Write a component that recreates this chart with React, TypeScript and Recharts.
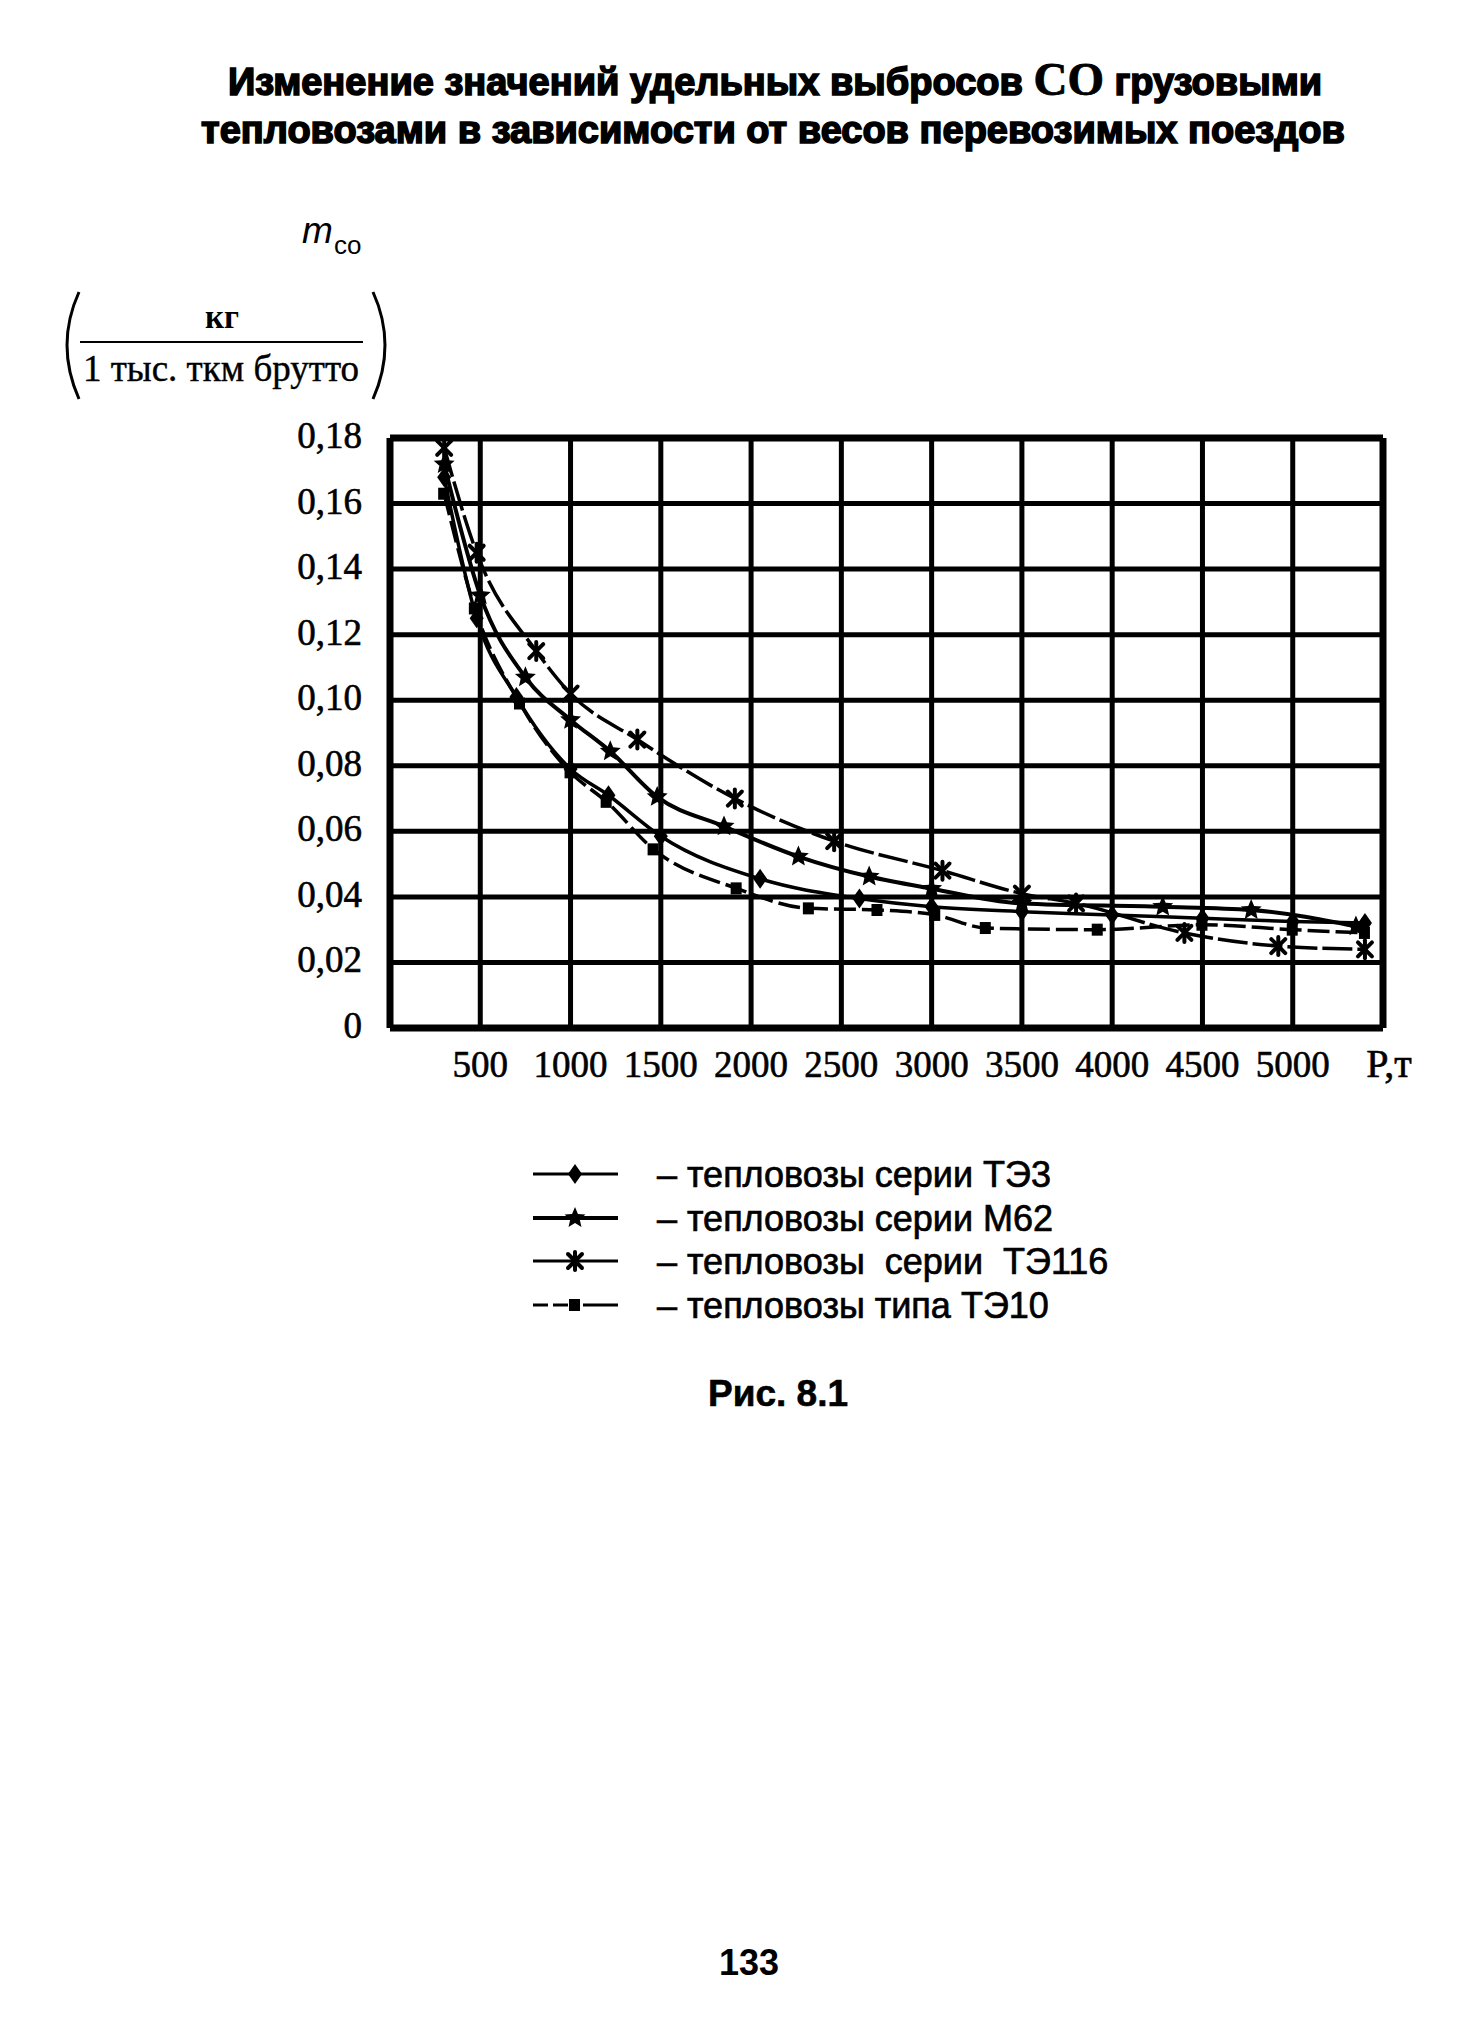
import React from "react";
import {
  LineChart,
  Line,
  XAxis,
  YAxis,
  CartesianGrid,
  ReferenceLine,
} from "recharts";

// P, т (train weight) axis
const pTicks = [0, 500, 1000, 1500, 2000, 2500, 3000, 3500, 4000, 4500, 5000, 5500];
const pLabels = ["", "500", "1000", "1500", "2000", "2500", "3000", "3500", "4000", "4500", "5000", "P,т"];

// m_co axis
const mTicks = [0, 0.02, 0.04, 0.06, 0.08, 0.1, 0.12, 0.14, 0.16, 0.18];
const mLabels = ["0", "0,02", "0,04", "0,06", "0,08", "0,10", "0,12", "0,14", "0,16", "0,18"];

// [P, m_co]
const te3 = [
  [300, 0.168], [480, 0.125], [700, 0.101], [1000, 0.079], [1210, 0.071],
  [1500, 0.0585], [2050, 0.0455], [2600, 0.0395], [3000, 0.037], [3500, 0.0355],
  [4000, 0.0345], [4500, 0.0335], [5000, 0.0325], [5400, 0.032],
];
const m62 = [
  [300, 0.172], [500, 0.132], [750, 0.107], [1000, 0.094], [1220, 0.0844],
  [1480, 0.0705], [1850, 0.0615], [2262, 0.0523], [2654, 0.0462], [3000, 0.0425],
  [3500, 0.038], [4280, 0.037], [4770, 0.036], [5350, 0.031],
];
const te116 = [
  [300, 0.177], [480, 0.145], [810, 0.115], [1000, 0.102], [1370, 0.088],
  [1910, 0.07], [2460, 0.057], [3060, 0.048], [3500, 0.041], [3800, 0.038],
  [4400, 0.029], [4920, 0.025], [5400, 0.024],
];
const te10 = [
  [300, 0.163], [470, 0.128], [720, 0.099], [1000, 0.078], [1200, 0.069],
  [1460, 0.0545], [1920, 0.0426], [2320, 0.0365], [2700, 0.036], [3020, 0.0345],
  [3300, 0.0305], [3920, 0.03], [4500, 0.0315], [5000, 0.03], [5400, 0.029],
];

const seriesNames = [
  "тепловозы серии ТЭ3",
  "тепловозы серии М62",
  "тепловозы  серии  ТЭ116",
  "тепловозы типа ТЭ10",
];

const toRows = (pts: number[][]) => pts.map(([p, m]) => ({ p, m }));

const SERIF = "'Liberation Serif', 'Times New Roman', serif";
const SANS = "'Liberation Sans', Arial, sans-serif";

type Mark = "diamond" | "star" | "asterisk" | "square";

const marker = (kind: Mark, cx: number, cy: number, key?: any) => {
  if (kind === "diamond") {
    return (
      <path key={key} d={`M${cx},${cy - 10} L${cx + 7},${cy} L${cx},${cy + 10} L${cx - 7},${cy} Z`} fill="#000" />
    );
  }
  if (kind === "square") {
    return <rect key={key} x={cx - 6} y={cy - 6} width={11} height={12} fill="#000" />;
  }
  if (kind === "star") {
    const pts: string[] = [];
    for (let i = 0; i < 10; i++) {
      const r = i % 2 === 0 ? 11 : 5;
      const a = -Math.PI / 2 + (i * Math.PI) / 5;
      pts.push(`${cx + r * Math.cos(a)},${cy + r * Math.sin(a)}`);
    }
    return <polygon key={key} points={pts.join(" ")} fill="#000" />;
  }
  return (
    <g key={key} stroke="#000" strokeWidth={4} strokeLinecap="round">
      <line x1={cx - 7} y1={cy - 7} x2={cx + 7} y2={cy + 7} />
      <line x1={cx + 7} y1={cy - 7} x2={cx - 7} y2={cy + 7} />
      <line x1={cx} y1={cy - 9} x2={cx} y2={cy + 9} />
    </g>
  );
};

const dotOf = (kind: Mark) => (props: any) =>
  marker(kind, props.cx, props.cy, `${kind}-${props.index}`);

const PTick = (props: any) => {
  const { x, y, payload } = props;
  const label = pLabels[pTicks.indexOf(payload.value)];
  const last = payload.value === 5500;
  return (
    <text
      x={x + (last ? 6 : 0)}
      y={y + 47}
      textAnchor="middle"
      fontFamily={SERIF}
      fontSize={last ? 40 : 37}
      fill="#000"
      stroke="#000"
      strokeWidth={0.6}
    >
      {label}
    </text>
  );
};

const MTick = (props: any) => {
  const { x, y, payload } = props;
  const i = mTicks.findIndex((t) => Math.abs(t - payload.value) < 1e-6);
  return (
    <text x={x} y={y + 10} textAnchor="end" fontFamily={SERIF} fontSize={37} fill="#000" stroke="#000" strokeWidth={0.6}>
      {mLabels[i]}
    </text>
  );
};

const legendMarks: Mark[] = ["diamond", "star", "asterisk", "square"];
const legendY = [1174, 1218, 1261, 1305];

export default function App() {
  return (
    <div style={{ position: "absolute", left: 0, top: 0, width: 1482, height: 2036, background: "#fff" }}>
      <div style={{ position: "absolute", left: 0, top: 0 }}>
        <LineChart
          width={1482}
          height={1110}
          margin={{ top: 438, right: 99, bottom: 22, left: 310 }}
        >
          <CartesianGrid stroke="#000" strokeWidth={5} />
          <XAxis
            type="number"
            dataKey="p"
            domain={[0, 5500]}
            ticks={pTicks}
            interval={0}
            tick={<PTick />}
            tickSize={0}
            tickLine={false}
            height={60}
            axisLine={{ stroke: "#000", strokeWidth: 7 }}
          />
          <YAxis
            type="number"
            dataKey="m"
            domain={[0, 0.18]}
            ticks={mTicks}
            interval={0}
            tick={<MTick />}
            tickSize={0}
            tickMargin={28}
            tickLine={false}
            width={80}
            axisLine={{ stroke: "#000", strokeWidth: 7 }}
          />
          <ReferenceLine x={5500} stroke="#000" strokeWidth={7} />
          <ReferenceLine y={0.18} stroke="#000" strokeWidth={7} />
          <Line
            data={toRows(te3)}
            dataKey="m"
            type="monotone"
            stroke="#000"
            strokeWidth={3.5}
            dot={dotOf("diamond")}
            isAnimationActive={false}
          />
          <Line
            data={toRows(m62)}
            dataKey="m"
            type="monotone"
            stroke="#000"
            strokeWidth={4}
            dot={dotOf("star")}
            isAnimationActive={false}
          />
          <Line
            data={toRows(te116)}
            dataKey="m"
            type="monotone"
            stroke="#000"
            strokeWidth={3.5}
            strokeDasharray="30 5"
            dot={dotOf("asterisk")}
            isAnimationActive={false}
          />
          <Line
            data={toRows(te10)}
            dataKey="m"
            type="monotone"
            stroke="#000"
            strokeWidth={3.5}
            strokeDasharray="22 6"
            dot={dotOf("square")}
            isAnimationActive={false}
          />
        </LineChart>
      </div>

      <svg
        width={1482}
        height={2036}
        style={{ position: "absolute", left: 0, top: 0, pointerEvents: "none" }}
      >
        {/* title */}
        <text x={775} y={95} textAnchor="middle" fontFamily={SANS} fontWeight={700} fontSize={38} stroke="#000" strokeWidth={1.6}>
          <tspan>Изменение значений удельных выбросов </tspan>
          <tspan fontFamily={SERIF} fontSize={47} strokeWidth={0.8}>CO</tspan>
          <tspan> грузовыми</tspan>
        </text>
        <text x={773} y={143} textAnchor="middle" fontFamily={SANS} fontWeight={700} fontSize={38} stroke="#000" strokeWidth={1.6}>
          тепловозами в зависимости от весов перевозимых поездов
        </text>

        {/* y axis label */}
        <text x={302} y={243} fontFamily={SANS} fontStyle="italic" fontSize={37}>m</text>
        <text x={334} y={254} fontFamily={SANS} fontSize={26}>co</text>
        <text x={222} y={328} textAnchor="middle" fontFamily={SERIF} fontSize={33} fontWeight={700}>кг</text>
        <line x1={80} y1={342} x2={363} y2={342} stroke="#000" strokeWidth={2} />
        <text x={221} y={381} textAnchor="middle" fontFamily={SERIF} fontSize={37} stroke="#000" strokeWidth={0.4}>
          1 тыс. ткм брутто
        </text>
        <path d="M79,292 Q55,345 79,399" fill="none" stroke="#000" strokeWidth={3} />
        <path d="M373,292 Q397,345 373,399" fill="none" stroke="#000" strokeWidth={3} />

        {/* legend */}
        {seriesNames.map((name, i) => {
          const y = legendY[i];
          return (
            <g key={name}>
              {i === 3 ? (
                <>
                  <line x1={533} y1={y} x2={548} y2={y} stroke="#000" strokeWidth={3} />
                  <line x1={553} y1={y} x2={568} y2={y} stroke="#000" strokeWidth={3} />
                  <line x1={583} y1={y} x2={618} y2={y} stroke="#000" strokeWidth={3} />
                </>
              ) : (
                <line x1={533} y1={y} x2={618} y2={y} stroke="#000" strokeWidth={i === 1 ? 4 : 3} />
              )}
              {marker(legendMarks[i], 575, y)}
              <text
                x={657}
                y={y + 13}
                fontFamily={SANS}
                fontSize={36}
                stroke="#000"
                strokeWidth={0.7}
                style={{ whiteSpace: "pre" }}
              >
                {"– " + name}
              </text>
            </g>
          );
        })}

        <text x={708} y={1406} fontFamily={SANS} fontWeight={700} fontSize={37} stroke="#000" strokeWidth={0.6}>Рис. 8.1</text>
        <text x={749} y={1975} textAnchor="middle" fontFamily={SANS} fontWeight={700} fontSize={36}>133</text>
      </svg>
    </div>
  );
}
